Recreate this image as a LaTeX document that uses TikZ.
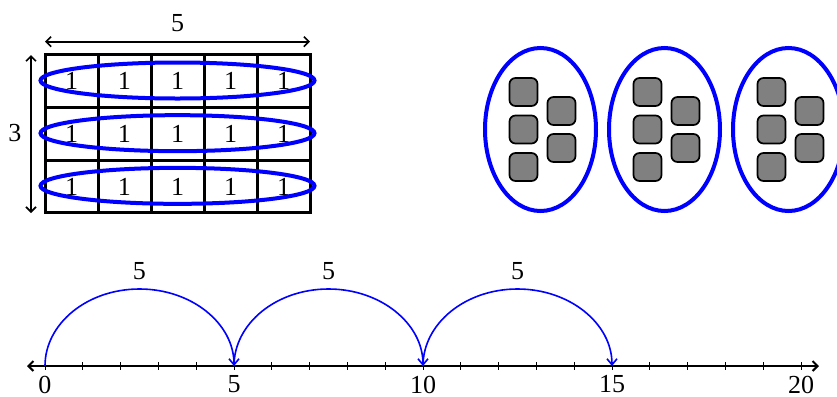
\documentclass[tikz,border=0pt]{standalone}
\usepackage{fontspec}
\setmainfont{Liberation Serif}
\usetikzlibrary{positioning, shapes.geometric, arrows.meta, calc}
\tikzset{
  cell/.style={draw, line width=1.5pt, minimum width=26.5pt,
               minimum height=26.33pt, inner sep=0pt},
  rowring/.style={ellipse, draw=blue, line width=2pt, inner sep=0pt,
                  minimum width=137pt, minimum height=18pt},
  grpring/.style={ellipse, draw=blue, line width=2pt, inner sep=0pt,
                  minimum width=55.5pt, minimum height=81.5pt},
  counter/.style={draw, line width=0.85pt, fill=gray, rounded corners=3pt,
                  minimum size=14pt, inner sep=0pt},
  dimarrow/.style={{Straight Barb[length=2.5pt,width=5pt]}-{Straight Barb[length=2.5pt,width=5pt]}, line width=0.8pt}
}
\begin{document}
\begin{tikzpicture}[x=0.5pt, y=-0.5pt,
    font=\fontsize{13pt}{15pt}\selectfont,
    axis/.style={{Straight Barb[length=2.5pt,width=5pt]}-{Straight Barb[length=2.5pt,width=5pt]}, line width=1pt},
    tick/.style={line width=0.5pt},
    ticklabel/.style={inner sep=1pt},
    jump/.style={-{Straight Barb[length=3pt,width=5pt]}, blue, line width=0.8pt}
]
\clip (0,0) rectangle (837,397);
% array of ones
\foreach \r in {0,1,2}
  \foreach \c in {0,...,4}
    \node[cell] (c\r\c) at ({71.5+53*\c},{81.3+52.67*\r}) {1};
\foreach \r in {0,1,2}
  \node[rowring] (row\r) at (177.5,{80.5+52.67*\r}) {};
\coordinate (wl) at (45,41.7);
\coordinate (wr) at (310,41.7);
\draw[dimarrow] (wl) -- (wr);
\node (wlab) at (177.5,23) {5};
\coordinate (ht) at (31,55);
\coordinate (hb) at (31,213);
\draw[dimarrow] (ht) -- (hb);
\node (hlab) at (15,133) {3};
% groups of five
\foreach \g in {0,1,2} {
  \node[grpring] (grp\g) at ({540.5+124*\g},129.5) {};
  \foreach \dy [count=\k] in {-37.5,0,37.5}
    \node[counter] (sqa\g\k) at ($(grp\g.center)+(-17,\dy)$) {};
  \foreach \dy [count=\k] in {-18.5,18.5}
    \node[counter] (sqb\g\k) at ($(grp\g.center)+(21,\dy)$) {};
}
% number line
\coordinate (left) at (27,366);
\coordinate (right) at (819,366);
\draw[axis] (left) -- (right);
\foreach \i in {0,...,20} {
  \coordinate (t\i) at ({45+37.8*\i},366);
  \draw[tick] ($(t\i)+(0,-4)$) -- ($(t\i)+(0,4)$);
}
\foreach \i in {0,5,10,15,20}
  \node[ticklabel] (n\i) at ($(t\i)+(0,18.5)$) {\i};
\foreach \a/\b in {0/5,5/10,10/15} {
  \coordinate (top\a) at ($(t\a)!0.5!(t\b)+(0,-77)$);
  \draw[jump] (t\a) .. controls +(0,-42.5) and +(-52.2,0) .. (top\a)
     .. controls +(52.2,0) and +(0,-42.5) .. (t\b);
  \node (j\a) at ($(top\a)+(0,-17.5)$) {5};
}
\end{tikzpicture}
\end{document}
